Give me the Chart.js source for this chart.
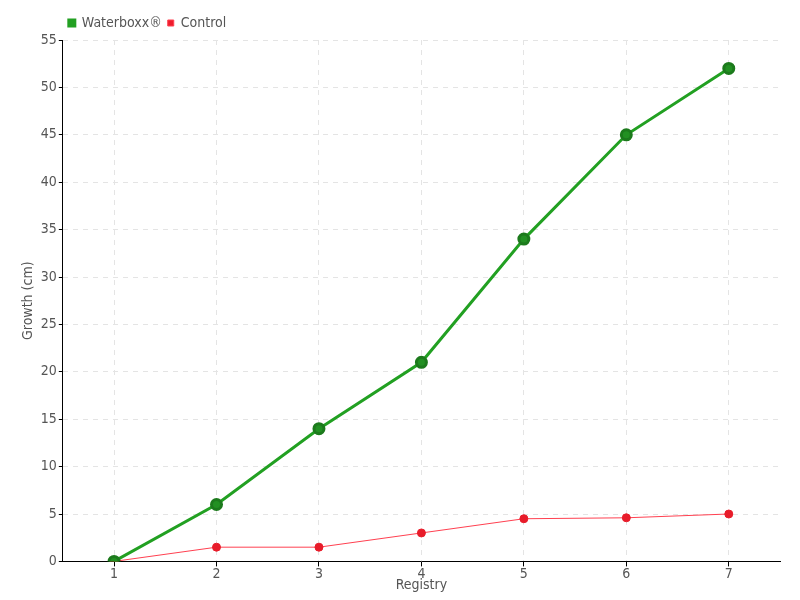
<!DOCTYPE html>
<html lang="en">
<head>
    <meta charset="UTF-8">
    <title>Growth</title>
    <style>
        body { margin: 0; background: #fff; }
        #wrap { width: 800px; height: 600px; }
    </style>
</head>
<body>
    <div id="wrap"><canvas id="growth"></canvas></div>
    <script src="https://cdn.jsdelivr.net/npm/chart.js"></script>
    <script>
        const registry = ['1', '2', '3', '4', '5', '6', '7'];
        const waterboxx = [0, 6, 14, 21, 34, 45, 52];
        const control = [0, 1.5, 1.5, 3, 4.5, 4.6, 5];

        Chart.defaults.font.family = '"DejaVu Sans Condensed", "DejaVu Sans", sans-serif';
        Chart.defaults.color = '#555';

        new Chart(document.getElementById('growth'), {
            type: 'line',
            data: {
                labels: registry,
                datasets: [{
                    label: 'Waterboxx®',
                    data: waterboxx,
                    borderColor: '#22a022',
                    backgroundColor: '#22a022',
                    pointBackgroundColor: '#229022',
                    pointBorderColor: '#1c7a1c',
                    borderWidth: 3,
                    pointRadius: 5,
                    tension: 0
                }, {
                    label: 'Control',
                    data: control,
                    borderColor: '#ff4050',
                    backgroundColor: '#ee1c2c',
                    pointBackgroundColor: '#e81c2a',
                    pointBorderColor: '#e81c2a',
                    borderWidth: 1,
                    pointRadius: 4,
                    tension: 0
                }]
            },
            options: {
                responsive: true,
                maintainAspectRatio: false,
                animation: false,
                layout: { padding: { left: 18, right: 20, top: 10, bottom: 6 } },
                plugins: {
                    legend: {
                        align: 'start',
                        fullSize: false,
                        labels: { boxWidth: 6, boxHeight: 6, padding: 6, font: { size: 14 } }
                    },
                    tooltip: { enabled: false }
                },
                scales: {
                    x: {
                        offset: true,
                        title: { display: true, text: 'Registry', font: { size: 14 }, padding: { top: -6, bottom: 0 } },
                        grid: {
                            offset: false,
                            color: '#e4e4e4',
                            tickColor: '#000',
                            tickLength: 5
                        },
                        border: { color: '#000', dash: [5, 5] },
                        ticks: { font: { size: 14 }, padding: 0 }
                    },
                    y: {
                        min: 0,
                        max: 55,
                        title: { display: true, text: 'Growth (cm)', font: { size: 14 }, padding: 2 },
                        ticks: { stepSize: 5, font: { size: 14 }, padding: 2 },
                        grid: { color: '#e4e4e4', tickColor: '#000', tickLength: 4 },
                        border: { color: '#000', dash: [5, 5] }
                    }
                }
            }
        });
    </script>
</body>
</html>
